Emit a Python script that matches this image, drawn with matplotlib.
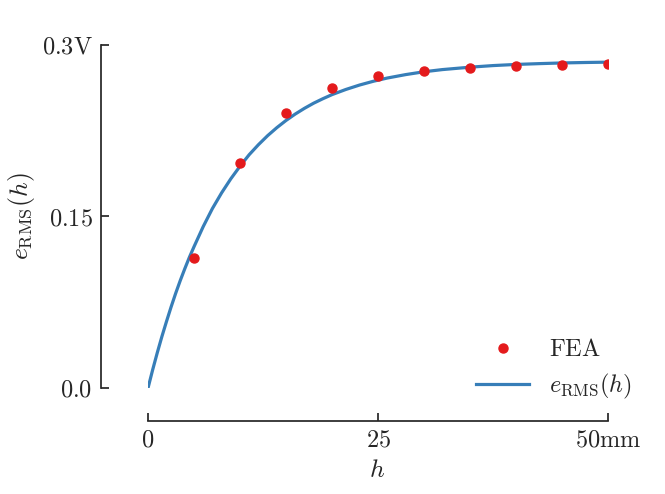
import matplotlib
matplotlib.use("Agg")
import matplotlib.pyplot as plt

plt.rcParams['mathtext.fontset'] = 'cm'
plt.rcParams['font.family'] = 'serif'
plt.rcParams['font.serif'] = ['cmr10', 'DejaVu Serif']
plt.rcParams['axes.formatter.use_mathtext'] = True

# FEA samples
fea_h = [5, 10, 15, 20, 25, 30, 35, 40, 45, 50]
fea_e = [0.1137, 0.1968, 0.2406, 0.2625, 0.2730, 0.2773, 0.2800, 0.2817, 0.2826, 0.2835]

# model curve
curve_h = [0, 0.5, 1, 1.5, 2, 2.5, 3, 3.5, 4, 4.5, 5, 6, 7, 8, 9, 10, 11, 12, 13, 14,
           15, 16, 17, 18, 19, 20, 21.5, 23, 24.5, 26, 28, 30, 32, 35, 37.5, 40,
           42.5, 45, 47.5, 50]
curve_e = [0.0, 0.0158, 0.0307, 0.0448, 0.058, 0.0707, 0.0827, 0.0939, 0.1044, 0.1144,
           0.1236, 0.1412, 0.157, 0.1707, 0.183, 0.194, 0.2041, 0.2128, 0.2207, 0.2277,
           0.234, 0.2396, 0.2446, 0.2491, 0.253, 0.2566, 0.2611, 0.265, 0.2683, 0.2711,
           0.2741, 0.2766, 0.2785, 0.2806, 0.282, 0.283, 0.2837, 0.2843, 0.2847, 0.285]

x_ticks = [0, 25, 50]
x_labels = ['$0$', '$25$', r'$50\mathrm{mm}$']
y_ticks = [0.0, 0.15, 0.3]
y_labels = ['$0.0$', '$0.15$', r'$0.3\mathrm{V}$']

fig = plt.figure(figsize=(6.65, 4.94), dpi=100)
ax = fig.add_axes([0.2226, 0.2146, 0.6917, 0.6943])

ax.plot(fea_h, fea_e, 'o', color='#e41a1c', markersize=6.5, label=r'$\mathrm{FEA}$', zorder=3)
ax.plot(curve_h, curve_e, '-', color='#377eb8', lw=2.3, label=r'$e_{\mathrm{RMS}}(h)$', zorder=2)

ax.set_xlim(0, 50)
ax.set_ylim(0, 0.3)
ax.set_xticks(x_ticks)
ax.set_xticklabels(x_labels)
ax.set_yticks(y_ticks)
ax.set_yticklabels(y_labels)

for s in ['top', 'right']:
    ax.spines[s].set_visible(False)
ax.spines['left'].set_position(('outward', 34))
ax.spines['bottom'].set_position(('outward', 24))
for s in ['left', 'bottom']:
    ax.spines[s].set_color('#262626')
    ax.spines[s].set_linewidth(1.25)
ax.tick_params(direction='in', length=6, width=1.25, color='#262626',
               labelsize=17.5, labelcolor='#262626', pad=6)

ax.set_xlabel('$h$', fontsize=18.5, color='#262626')
ax.set_ylabel(r'$e_{\mathrm{RMS}}(h)$', fontsize=18.5, color='#262626')
ax.xaxis.set_label_coords(0.497, -0.204)
ax.yaxis.set_label_coords(-0.241, 0.5)

leg = ax.legend(loc='lower right', bbox_to_anchor=(1.073, -0.067), frameon=False,
                fontsize=17.5, handlelength=2.2, borderaxespad=0, labelspacing=0.45)
for t in leg.get_texts():
    t.set_color('#262626')

fig.savefig('out.png', dpi=100)
